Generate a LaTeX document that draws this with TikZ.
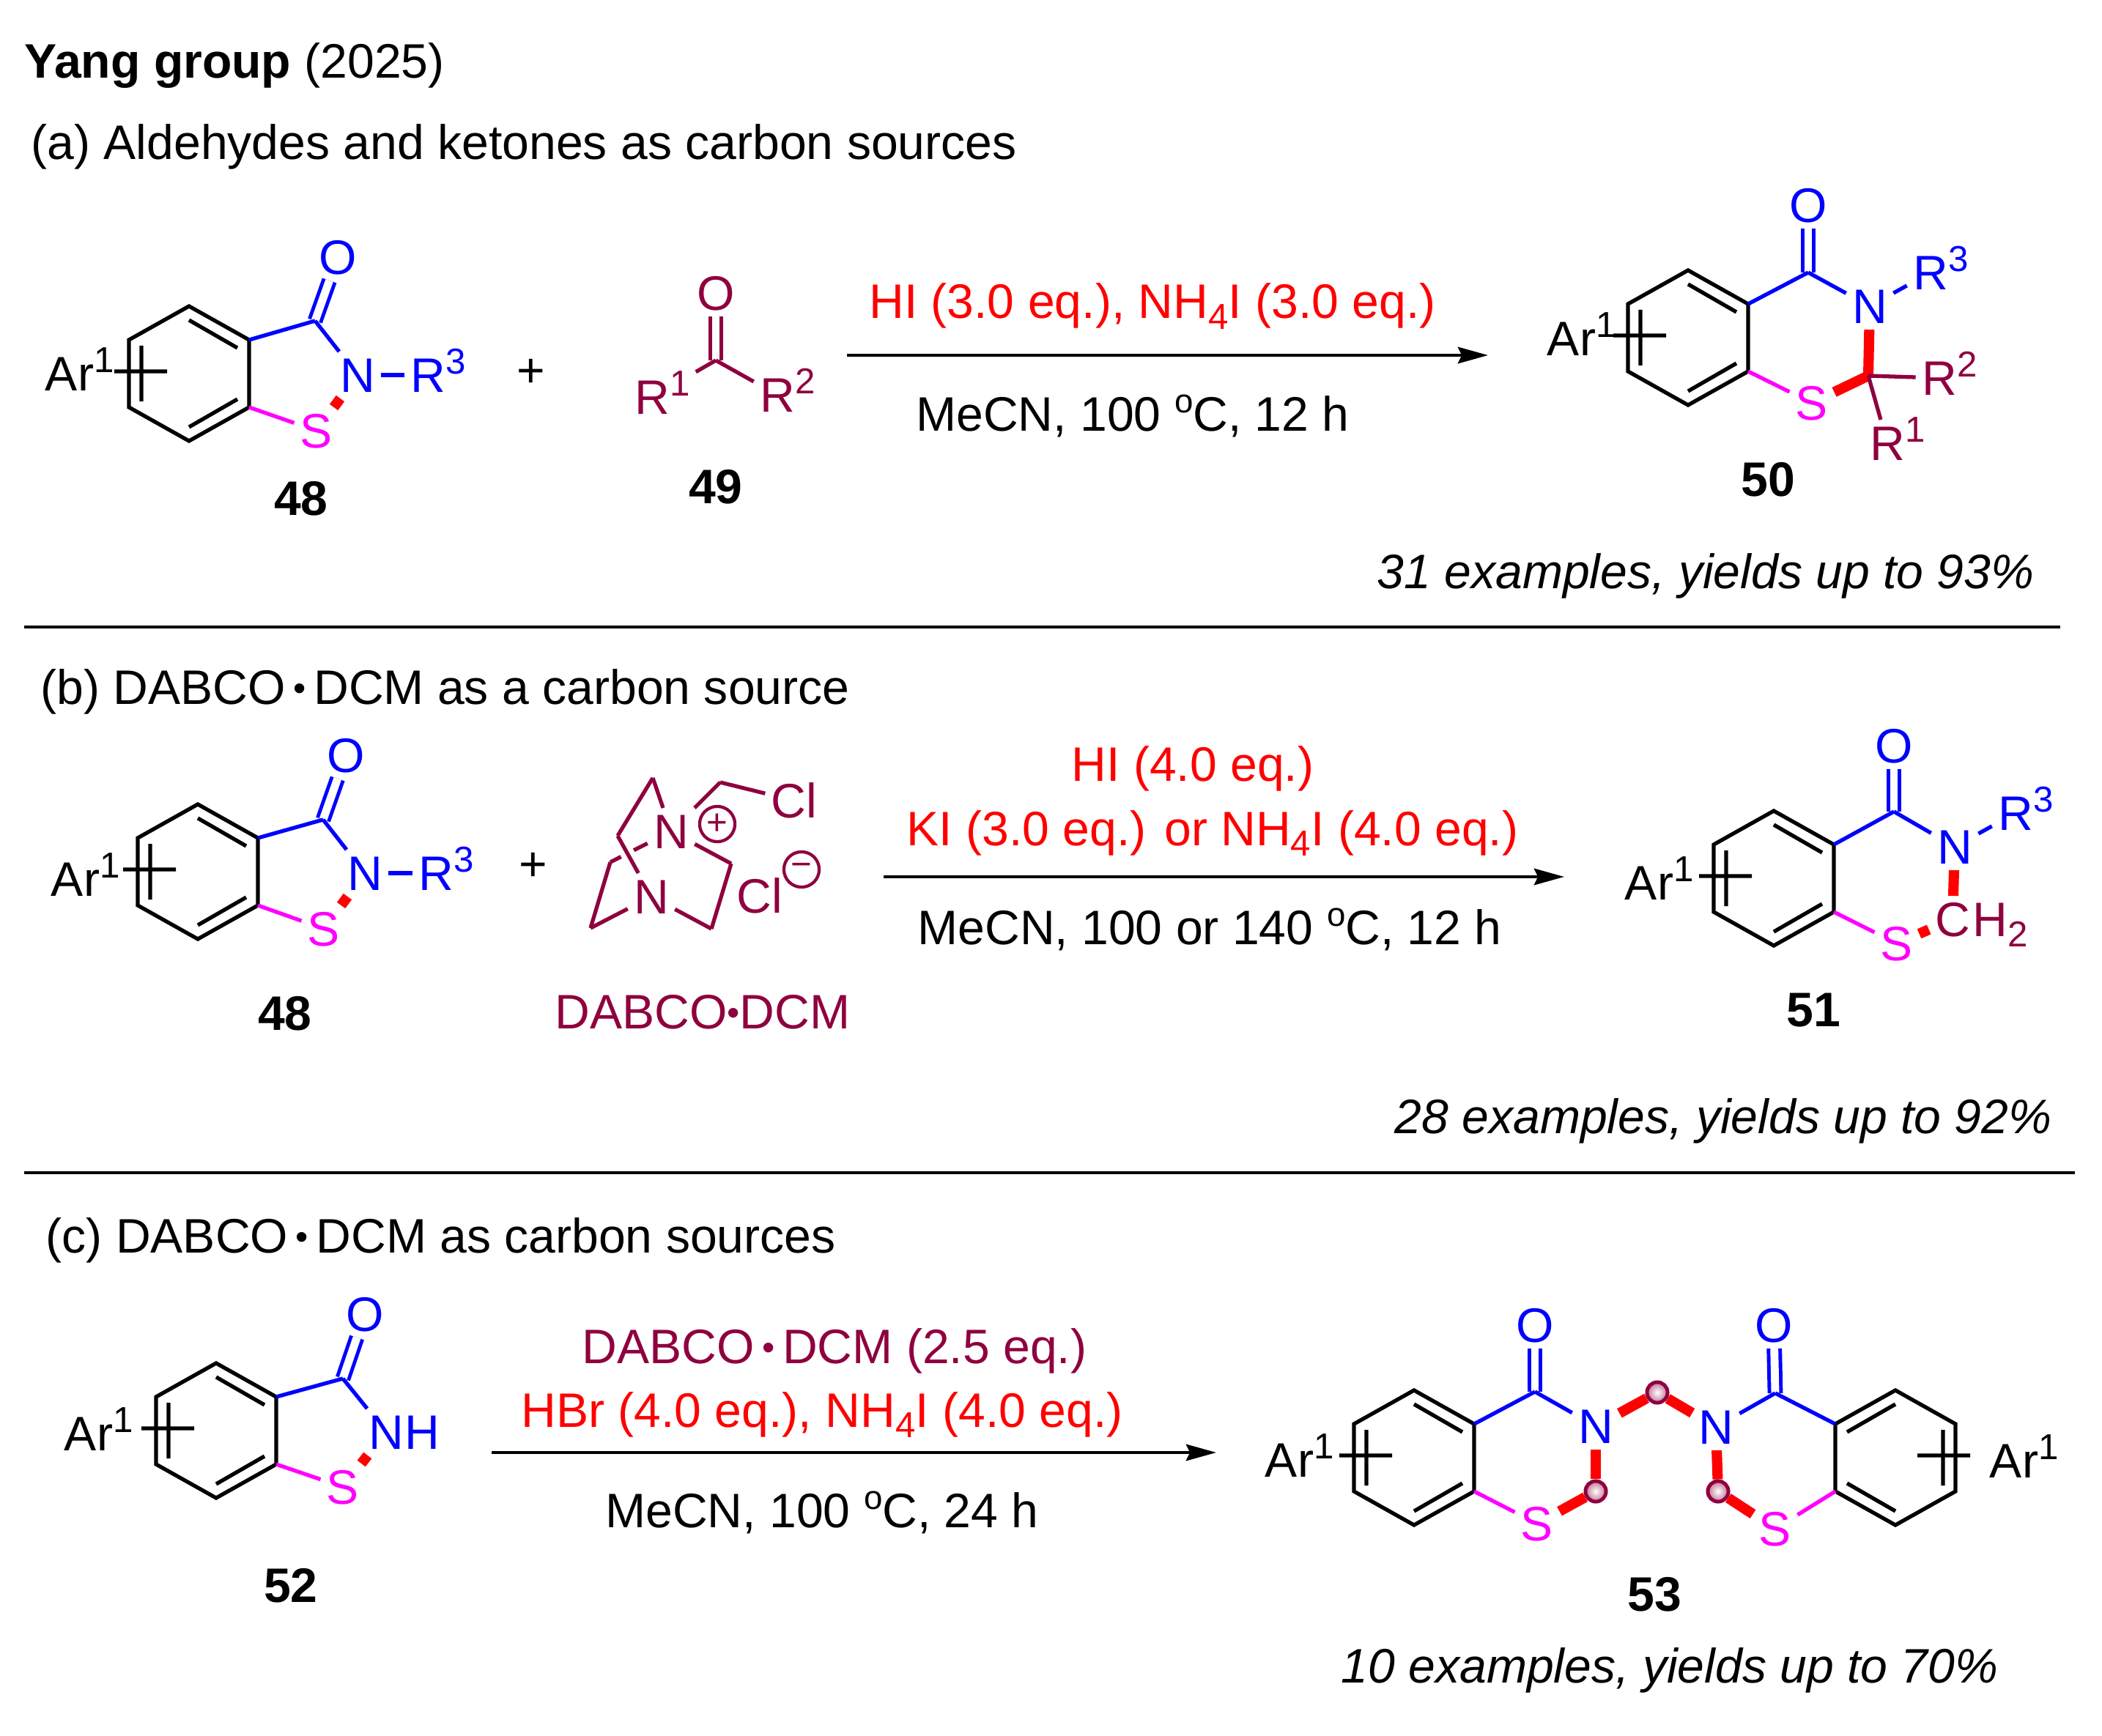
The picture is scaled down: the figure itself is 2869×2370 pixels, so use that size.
\documentclass[tikz,border=0pt]{standalone}
\usepackage{fontspec}
\setmainfont{Liberation Sans}
\usetikzlibrary{arrows.meta}
\definecolor{dabco}{RGB}{143,0,63}
\definecolor{sulfur}{RGB}{255,0,255}
\newcommand{\chemf}{\fontsize{18.8}{22}\selectfont}
\newcommand{\smallf}{\fontsize{13}{13}\selectfont}
\newcommand{\digitf}{\fontsize{14}{14}\selectfont}
\newcommand{\supn}[1]{\raisebox{7.1pt}{\smallf #1}}
\newcommand{\subn}[1]{\raisebox{-4pt}{\digitf #1}}
\newcommand{\dotm}[1]{\kern#1\raisebox{1.4pt}{\digitf•}\kern#1}
\tikzset{
	txt/.style={font=\chemf,inner sep=0pt},
	atom/.style={font=\chemf,inner sep=2.2pt,text height=13.4pt,text depth=0pt},
	cmpd/.style={atom,font=\chemf\bfseries},
	supnum/.style={font=\digitf,inner sep=0pt},
	bondline/.style={line width=1.5pt},
	redbond/.style={red,line width=4pt},
	dbl/.style={double,double distance=3.1pt,line width=1.4pt},
	halo/.style={preaction={draw=white,line width=5.5pt}},
	rxn/.style={line width=1.15pt,-{Stealth[length=11.7pt,width=6.4pt,inset=1.5pt]}},
	rule/.style={line width=1pt},
	charge/.style={circle,draw,line width=1.2pt,minimum size=13.7pt,inner sep=0pt,font=\digitf},
	ball/.style={circle,draw=dabco,line width=1.4pt,minimum size=8pt,inner sep=0pt,inner color=white,outer color=dabco!55}
}
\newcommand{\bond}[3][black]{\draw[bondline,#1] (#2) -- (#3);}
\newcommand{\atomsup}[6]{\node[atom,#4](#1) at (#2,#3) {#5};
	\node[supnum,#4,anchor=base west](#1n) at ([xshift=-2.5pt,yshift=7.1pt]#1.base east) {#6};}
\newcommand{\benz}[4]{\begin{scope}[shift={(#2,#3)},xscale=#4]
		\coordinate (#1t) at (0,-92);
		\coordinate (#1ur) at (82,-46);
		\coordinate (#1lr) at (82,46);
		\coordinate (#1b) at (0,92);
		\coordinate (#1ll) at (-82,46);
		\coordinate (#1ul) at (-82,-46);
		\draw[bondline] (#1t) -- (#1ur) -- (#1lr) -- (#1b) -- (#1ll) -- (#1ul) -- cycle;
		\draw[bondline] (0,-73) -- (66,-35) (0,73) -- (66,35) (-65,-38) -- (-65,38) (-102,-3) -- (-30,-3);
	\end{scope}}

\begin{document}
\begin{tikzpicture}[x=0.01cm,y=-0.01cm]
	\useasboundingbox (0,0) rectangle (2869,2370);
	
	\node[txt,anchor=base west](title) at (33,107) {\textbf{Yang group} (2025)};
	\node[txt,anchor=base west](headA) at (42,218) {(a) Aldehydes and ketones as carbon sources};
	\node[txt,anchor=base west](headB) at (55,961) {(b) DABCO\dotm{3pt}DCM as a carbon source};
	\node[txt,anchor=base west](headC) at (62,1710) {(c) DABCO\dotm{3pt}DCM as carbon sources};
	\coordinate (ruleAa) at (33,856);
	\coordinate (ruleAb) at (2812,856);
	\coordinate (ruleBa) at (33,1601);
	\coordinate (ruleBb) at (2832,1601);
	\draw[rule] (ruleAa) -- (ruleAb);
	\draw[rule] (ruleBa) -- (ruleBb);
	
	% row a, 48
	\benz{a}{258}{510}{1}
	\coordinate (aC) at (430,438);
	\node[atom,blue](aO) at (461,351) {O};
	\node[atom,blue](aN) at (488,512) {N};
	\node[atom,sulfur](aS) at (432,588) {S};
	\atomsup{aR}{584}{512}{blue}{R}{3}
	\atomsup{aAr}{95}{510}{black}{Ar}{1}
	\draw[dbl,blue] (aC) -- (aO);
	\bond[blue]{aur}{aC}
	\bond[blue]{aC}{aN}
	\bond[blue]{aN}{aR}
	\bond[sulfur]{alr}{aS}
	\bond[redbond]{aN}{aS}
	\node[cmpd](labA) at (411,680) {48};
	\node[txt](plusA) at (725,509) {+};
	
	% 49
	\coordinate (kC) at (977,492);
	\node[atom,dabco](kO) at (977,400) {O};
	\atomsup{kRa}{890}{542}{dabco}{R}{1}
	\atomsup{kRb}{1061}{539}{dabco}{R}{2}
	\draw[dbl,dabco] (kC) -- (kO);
	\bond[dabco,shorten >=9pt]{kC}{kRa}
	\bond[dabco]{kC}{kRb}
	\node[cmpd](labK) at (977,664) {49};
	
	\coordinate (arrAa) at (1156,485);
	\coordinate (arrAb) at (2031,485);
	\draw[rxn] (arrAa) -- (arrAb);
	\node[txt,red,anchor=base](condAa) at (1573,435) {HI (3.0 eq.), NH\subn{4}I (3.0 eq.)};
	\node[txt,anchor=base](condAb) at (1546,588) {MeCN, 100 \supn{o}C, 12 h};
	
	% 50
	\benz{p}{2304}{461}{1}
	\coordinate (pC) at (2468,372);
	\coordinate (pQ) at (2550,513);
	\node[atom,blue](pO) at (2468,280) {O};
	\node[atom,blue](pN) at (2552,418) {N};
	\node[atom,sulfur](pS) at (2473,550) {S};
	\atomsup{pRc}{2635}{372}{blue}{R}{3}
	\atomsup{pRb}{2647}{516}{dabco}{R}{2}
	\atomsup{pRa}{2576}{605}{dabco}{R}{1}
	\atomsup{pAr}{2145}{462}{black}{Ar}{1}
	\draw[dbl,blue] (pC) -- (pO);
	\bond[blue]{pur}{pC}
	\bond[blue]{pC}{pN}
	\bond[blue]{pN}{pRc}
	\bond[sulfur]{plr}{pS}
	\bond[redbond]{pN}{pQ}
	\bond[redbond]{pQ}{pS}
	\bond[dabco]{pQ}{pRb}
	\bond[dabco]{pQ}{pRa}
	\node[cmpd](labP) at (2413,654) {50};
	\node[txt,anchor=base east](yieldA) at (2777,803) {\itshape 31 examples, yields up to 93\%};
	
	% row b, 48
	\benz{b}{270}{1190}{1}
	\coordinate (bC) at (441,1119);
	\node[atom,blue](bO) at (472,1031) {O};
	\node[atom,blue](bN) at (498,1192) {N};
	\node[atom,sulfur](bS) at (442,1268) {S};
	\atomsup{bR}{595}{1192}{blue}{R}{3}
	\atomsup{bAr}{103}{1200}{black}{Ar}{1}
	\draw[dbl,blue] (bC) -- (bO);
	\bond[blue]{bur}{bC}
	\bond[blue]{bC}{bN}
	\bond[blue]{bN}{bR}
	\bond[sulfur]{blr}{bS}
	\bond[redbond]{bN}{bS}
	\node[cmpd](labB) at (389,1383) {48};
	\node[txt](plusB) at (728,1183) {+};
	
	% DABCO salt
	\coordinate (dt) at (891,1062);
	\coordinate (dl) at (843,1141);
	\coordinate (dli) at (833,1177);
	\coordinate (dbl) at (806,1267);
	\coordinate (dbr) at (971,1268);
	\coordinate (dr) at (998,1179);
	\coordinate (dch) at (983,1068);
	\node[atom,dabco](dNa) at (916,1135) {N};
	\node[atom,dabco](dNb) at (889,1224) {N};
	\node[atom,dabco](dCla) at (1084,1093) {Cl};
	\node[atom,dabco](dClb) at (1037,1223) {Cl};
	\node[charge,dabco](dPos) at (979,1125) {+};
	\node[charge,dabco](dNeg) at (1094,1187) {−};
	\bond[dabco]{dli}{dNa}
	\bond[dabco,halo]{dl}{dNb}
	\bond[dabco]{dt}{dNa}
	\bond[dabco]{dt}{dl}
	\bond[dabco]{dli}{dbl}
	\bond[dabco]{dbl}{dNb}
	\bond[dabco]{dNb}{dbr}
	\bond[dabco]{dbr}{dr}
	\bond[dabco]{dr}{dNa}
	\bond[dabco]{dNa}{dch}
	\bond[dabco]{dch}{dCla}
	\node[txt,dabco,anchor=base](labD) at (959,1404) {DABCO\dotm{0pt}DCM};
	
	\coordinate (arrBa) at (1206,1197);
	\coordinate (arrBb) at (2135,1197);
	\draw[rxn] (arrBa) -- (arrBb);
	\node[txt,red,anchor=base](condBa) at (1628,1066) {HI (4.0 eq.)};
	\node[txt,red,anchor=base](condBb) at (1655,1154) {KI (3.0 eq.) or NH\subn{4}I (4.0 eq.)};
	\node[txt,anchor=base](condBc) at (1651,1289) {MeCN, 100 or 140 \supn{o}C, 12 h};
	
	% 51
	\benz{q}{2421}{1199}{1}
	\coordinate (qC) at (2585,1108);
	\node[atom,blue](qO) at (2585,1018) {O};
	\node[atom,blue](qN) at (2668,1156) {N};
	\node[atom,sulfur](qS) at (2589,1288) {S};
	\node[atom,dabco](qCh) at (2665,1255) {C};
	\node[atom,dabco,anchor=west,xshift=-3.7pt](qH) at (qCh.east) {H\subn{2}};
	\atomsup{qR}{2751}{1110}{blue}{R}{3}
	\atomsup{qAr}{2251}{1205}{black}{Ar}{1}
	\draw[dbl,blue] (qC) -- (qO);
	\bond[blue]{qur}{qC}
	\bond[blue]{qC}{qN}
	\bond[blue]{qN}{qR}
	\bond[sulfur]{qlr}{qS}
	\bond[redbond]{qN}{qCh}
	\bond[redbond]{qS}{qCh}
	\node[cmpd](labQ) at (2475,1378) {51};
	\node[txt,anchor=base east](yieldB) at (2801,1547) {\itshape 28 examples, yields up to 92\%};
	
	% row c, 52
	\benz{c}{295}{1953}{1}
	\coordinate (cC) at (468,1882);
	\node[atom,blue](cO) at (498,1794) {O};
	\node[atom,blue](cN) at (527,1955) {N};
	\node[atom,blue,anchor=west,xshift=-4.4pt](cH) at (cN.east) {H};
	\node[atom,sulfur](cS) at (468,2030) {S};
	\atomsup{cAr}{121}{1957}{black}{Ar}{1}
	\draw[dbl,blue] (cC) -- (cO);
	\bond[blue]{cur}{cC}
	\bond[blue]{cC}{cN}
	\bond[sulfur]{clr}{cS}
	\bond[redbond]{cN}{cS}
	\node[cmpd](labC) at (397,2164) {52};
	
	\coordinate (arrCa) at (671,1983);
	\coordinate (arrCb) at (1660,1983);
	\draw[rxn] (arrCa) -- (arrCb);
	\node[txt,dabco,anchor=base](condCa) at (1139,1861) {DABCO\dotm{3pt}DCM (2.5 eq.)};
	\node[txt,red,anchor=base](condCb) at (1122,1948) {HBr (4.0 eq.), NH\subn{4}I (4.0 eq.)};
	\node[txt,anchor=base](condCc) at (1122,2085) {MeCN, 100 \supn{o}C, 24 h};
	
	% 53
	\benz{m}{1930}{1990}{1}
	\benz{n}{2587}{1990}{-1}
	\coordinate (mC) at (2095,1900);
	\coordinate (nC) at (2423,1902);
	\node[ball](mQ) at (2178,2036) {};
	\node[ball](cQ) at (2262,1901) {};
	\node[ball](nQ) at (2345,2036) {};
	\node[atom,blue](mO) at (2095,1809) {O};
	\node[atom,blue](nO) at (2421,1809) {O};
	\node[atom,blue](mN) at (2178,1947) {N};
	\node[atom,blue](nN) at (2342,1948) {N};
	\node[atom,sulfur](mS) at (2098,2080) {S};
	\node[atom,sulfur](nS) at (2423,2087) {S};
	\atomsup{mAr}{1760}{1993}{black}{Ar}{1}
	\atomsup{nAr}{2749}{1994}{black}{Ar}{1}
	\draw[dbl,blue] (mC) -- (mO);
	\draw[dbl,blue] (nC) -- (nO);
	\bond[blue]{mur}{mC}
	\bond[blue]{mC}{mN}
	\bond[blue]{nur}{nC}
	\bond[blue]{nC}{nN}
	\bond[sulfur]{mlr}{mS}
	\bond[sulfur]{nlr}{nS}
	\bond[redbond]{mN}{mQ}
	\bond[redbond]{mQ}{mS}
	\bond[redbond]{nN}{nQ}
	\bond[redbond]{nQ}{nS}
	\bond[redbond]{mN}{cQ}
	\bond[redbond]{nN}{cQ}
	\node[cmpd](labM) at (2258,2176) {53};
	\node[txt,anchor=base](yieldC) at (2279,2297) {\itshape 10 examples, yields up to 70\%};
\end{tikzpicture}
\end{document}
